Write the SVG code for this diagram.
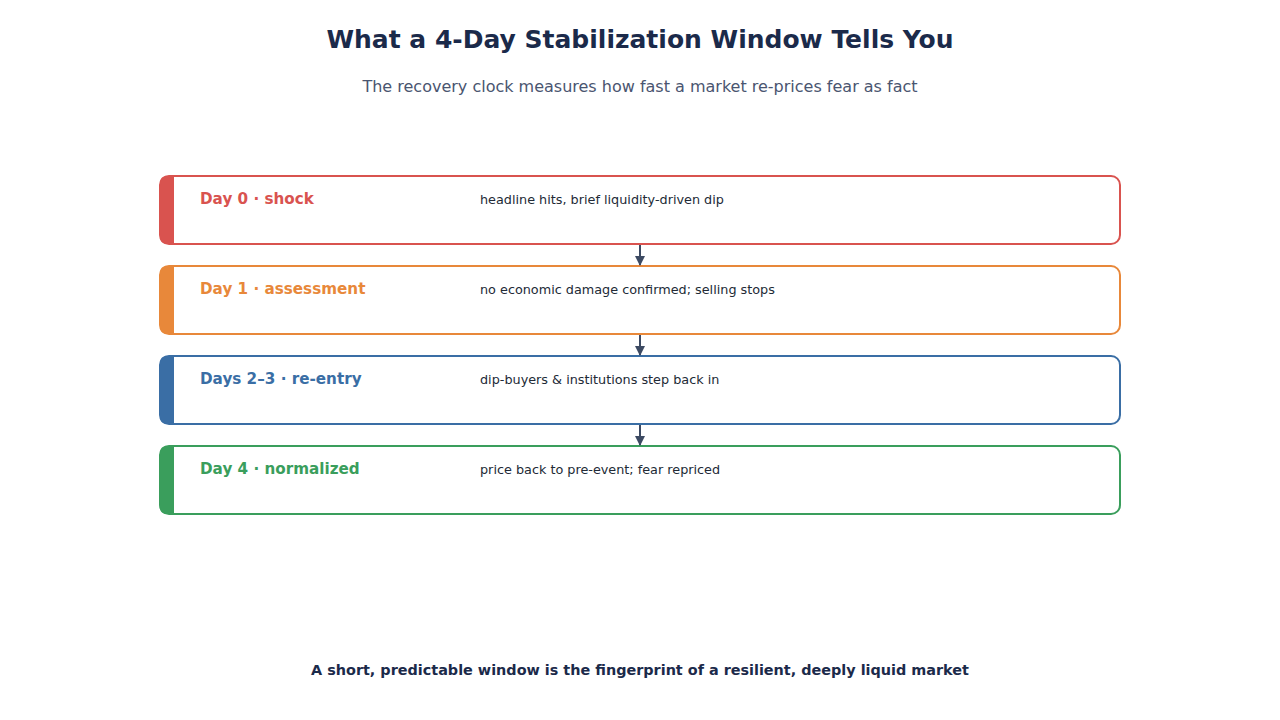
<svg xmlns="http://www.w3.org/2000/svg" width="1280" height="720" viewBox="0 0 1280 720">
<defs>
<style>
text{font-family:"DejaVu Sans",Verdana,sans-serif}
.title{font-size:25px;font-weight:bold;fill:#1b2a4a;text-anchor:middle}
.sub{font-size:16px;fill:#4a5570;text-anchor:middle}
.foot{font-size:14.4px;font-weight:bold;fill:#1b2a4a;text-anchor:middle}
.box{fill:#fff;stroke-width:2}
.lab{font-size:15.2px;font-weight:bold}
.desc{font-size:12.8px;fill:#222a36}
.conn{stroke:#3d4a63;stroke-width:2;fill:none}
</style>
<marker id="ah" viewBox="0 0 10 10" refX="9" refY="5" markerWidth="5" markerHeight="5" orient="auto" markerUnits="strokeWidth">
<path d="M0,0 L10,5 L0,10 z" fill="#3d4a63"/>
</marker>
</defs>
<rect width="1280" height="720" fill="#fff"/>
<text class="title" x="640" y="48">What a 4-Day Stabilization Window Tells You</text>
<text class="sub" x="640" y="92">The recovery clock measures how fast a market re-prices fear as fact</text>

<g id="n0">
<rect class="box" x="160" y="176" width="960" height="68" rx="9" stroke="#d9534f"/>
<path d="M167,176 H174 V244 H167 Q160,244 160,237 V183 Q160,176 167,176 z" fill="#d9534f"/>
<text class="lab" x="200" y="204" fill="#d9534f">Day 0 · shock</text>
<text class="desc" x="480" y="204">headline hits, brief liquidity-driven dip</text>
</g>
<g id="n1">
<rect class="box" x="160" y="266" width="960" height="68" rx="9" stroke="#e8883a"/>
<path d="M167,266 H174 V334 H167 Q160,334 160,327 V273 Q160,266 167,266 z" fill="#e8883a"/>
<text class="lab" x="200" y="294" fill="#e8883a">Day 1 · assessment</text>
<text class="desc" x="480" y="294">no economic damage confirmed; selling stops</text>
</g>
<g id="n2">
<rect class="box" x="160" y="356" width="960" height="68" rx="9" stroke="#3a6ea5"/>
<path d="M167,356 H174 V424 H167 Q160,424 160,417 V363 Q160,356 167,356 z" fill="#3a6ea5"/>
<text class="lab" x="200" y="384" fill="#3a6ea5">Days 2–3 · re-entry</text>
<text class="desc" x="480" y="384">dip-buyers &amp; institutions step back in</text>
</g>
<g id="n3">
<rect class="box" x="160" y="446" width="960" height="68" rx="9" stroke="#3a9e5c"/>
<path d="M167,446 H174 V514 H167 Q160,514 160,507 V453 Q160,446 167,446 z" fill="#3a9e5c"/>
<text class="lab" x="200" y="474" fill="#3a9e5c">Day 4 · normalized</text>
<text class="desc" x="480" y="474">price back to pre-event; fear repriced</text>
</g>

<g id="connectors">
<line class="conn" x1="640" y1="245" x2="640" y2="265" marker-end="url(#ah)"/>
<line class="conn" x1="640" y1="335" x2="640" y2="355" marker-end="url(#ah)"/>
<line class="conn" x1="640" y1="425" x2="640" y2="445" marker-end="url(#ah)"/>
</g>

<text class="foot" x="640" y="675">A short, predictable window is the fingerprint of a resilient, deeply liquid market</text>
</svg>
